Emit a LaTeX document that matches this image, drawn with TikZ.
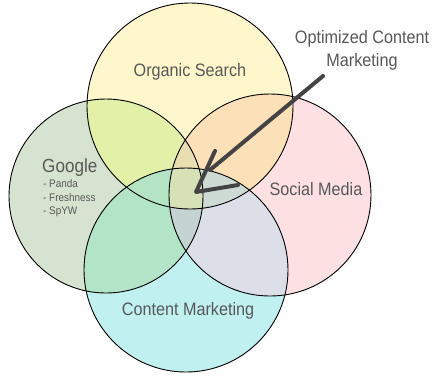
\documentclass[tikz,border=0pt]{standalone}
\usepackage{fontspec}
\setmainfont{Liberation Sans}[FakeStretch=0.9]
\usepackage{tikz}
\usetikzlibrary{positioning,calc}
% single sets
\definecolor{organic}{RGB}{255,247,204}
\definecolor{google}{RGB}{214,227,208}
\definecolor{social}{RGB}{253,224,226}
\definecolor{content}{RGB}{192,240,240}
% overlaps
\definecolor{orggoo}{RGB}{226,240,168}
\definecolor{orgsoc}{RGB}{252,224,184}
\definecolor{goocon}{RGB}{178,228,200}
\definecolor{soccon}{RGB}{220,222,232}
\definecolor{orgcon}{RGB}{204,232,200}
\definecolor{goosoc}{RGB}{224,222,200}
\definecolor{orggoosoc}{RGB}{232,222,176}
\definecolor{orggoocon}{RGB}{180,228,196}
\definecolor{orgsoccon}{RGB}{206,218,212}
\definecolor{goosoccon}{RGB}{196,212,210}
\definecolor{allfour}{RGB}{214,226,182}
\definecolor{inktext}{RGB}{88,88,88}
\definecolor{pen}{RGB}{68,68,68}

\def\rO{103}
\def\rG{97}
\def\rS{101}
\def\rC{102}
\newcommand{\vennclip}[2]{\clip (#1) circle[radius=#2];}

\begin{document}
\begin{tikzpicture}[x=1pt, y=-1pt,
  every node/.style={text=inktext},
  venn/.style={circle, draw=black, line width=0.9pt, inner sep=0pt},
  vennlabel/.style={font=\fontsize{18}{20}\selectfont, align=center},
  bullet/.style={font=\fontsize{11}{12}\selectfont, anchor=west, inner sep=0pt},
  pointer/.style={draw=pen, line width=4pt, line cap=round, line join=round}
]
  \useasboundingbox[fill=white] (0,0) rectangle (434,376);

  \coordinate (oc) at (190,106);
  \coordinate (gc) at (106,196);
  \coordinate (sc) at (270,195);
  \coordinate (cc) at (186,270);

  % plain fills
  \fill[organic] (oc) circle[radius=\rO];
  \fill[google]  (gc) circle[radius=\rG];
  \fill[social]  (sc) circle[radius=\rS];
  \fill[content] (cc) circle[radius=\rC];

  % two sets
  \begin{scope}\vennclip{oc}{\rO}\fill[orggoo] (gc) circle[radius=\rG];\end{scope}
  \begin{scope}\vennclip{oc}{\rO}\fill[orgsoc] (sc) circle[radius=\rS];\end{scope}
  \begin{scope}\vennclip{oc}{\rO}\fill[orgcon] (cc) circle[radius=\rC];\end{scope}
  \begin{scope}\vennclip{gc}{\rG}\fill[goosoc] (sc) circle[radius=\rS];\end{scope}
  \begin{scope}\vennclip{gc}{\rG}\fill[goocon] (cc) circle[radius=\rC];\end{scope}
  \begin{scope}\vennclip{sc}{\rS}\fill[soccon] (cc) circle[radius=\rC];\end{scope}

  % three sets
  \begin{scope}\vennclip{oc}{\rO}\vennclip{gc}{\rG}\fill[orggoosoc] (sc) circle[radius=\rS];\end{scope}
  \begin{scope}\vennclip{oc}{\rO}\vennclip{gc}{\rG}\fill[orggoocon] (cc) circle[radius=\rC];\end{scope}
  \begin{scope}\vennclip{oc}{\rO}\vennclip{sc}{\rS}\fill[orgsoccon] (cc) circle[radius=\rC];\end{scope}
  \begin{scope}\vennclip{gc}{\rG}\vennclip{sc}{\rS}\fill[goosoccon] (cc) circle[radius=\rC];\end{scope}

  % all four
  \begin{scope}\vennclip{oc}{\rO}\vennclip{gc}{\rG}\vennclip{sc}{\rS}\fill[allfour] (cc) circle[radius=\rC];\end{scope}

  % outlines
  \node[venn, minimum size=2*\rO pt] (organic) at (oc) {};
  \node[venn, minimum size=2*\rG pt] (google)  at (gc) {};
  \node[venn, minimum size=2*\rS pt] (social)  at (sc) {};
  \node[venn, minimum size=2*\rC pt] (content) at (cc) {};

  % set labels
  \node[vennlabel] (organictxt) at (190,72)  {Organic Search};
  \node[vennlabel] (socialtxt)  at (316,189) {Social Media};
  \node[vennlabel] (contenttxt) at (188,311) {Content Marketing};
  \node[vennlabel, font=\fontsize{19}{21}\selectfont, anchor=west, inner sep=0pt] (googletxt) at (42,168) {Google};
  \node[bullet] (panda)  at (43,184) {- Panda};
  \node[bullet] (fresh)  at (43,198) {- Freshness};
  \node[bullet] (spyw)   at (43,212) {- SpYW};

  % callout
  \node[vennlabel, font=\fontsize{18}{23}\selectfont] (optimized) at (362,50) {Optimized Content\\Marketing};
  \coordinate (tail) at (323,76);
  \coordinate (core) at (196,192);
  \draw[pointer] (tail) -- ($(core)+(14,-22)$);
  \draw[pointer] ($(core)+(19,-41)$) -- (core) -- ($(core)+(42,-7)$);
\end{tikzpicture}
\end{document}
